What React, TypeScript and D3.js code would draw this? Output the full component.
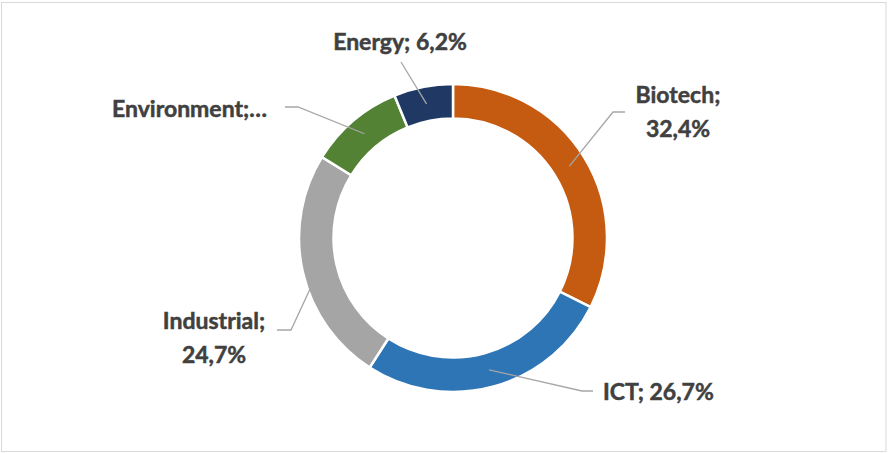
import React from "react";
import * as d3 from "d3";

const categories = ["Biotech", "ICT", "Industrial", "Environment", "Energy"];
const shares = [32.4, 26.7, 24.7, 10.0, 6.2];
const labelLines = [
  ["Biotech;", "32,4%"],
  ["ICT; 26,7%"],
  ["Industrial;", "24,7%"],
  ["Environment;…"],
  ["Energy; 6,2%"],
];
const colors = ["#C55A11", "#2E75B6", "#A5A5A5", "#548235", "#203864"];

// where Excel placed each label (text x, first baseline y, leader elbow)
const labelLayout = [
  { x: 678, y: 103, anchor: "middle", elbow: [625, 613, 112] },
  { x: 603, y: 400, anchor: "start", elbow: [593, 582, 391] },
  { x: 214, y: 329, anchor: "middle", elbow: [277, 291, 330] },
  { x: 267, y: 117, anchor: "end", elbow: [285, 298, 107] },
  { x: 400, y: 50, anchor: "middle", elbow: null },
];

const W = 888;
const H = 453;
const cx = 453;
const cy = 238;
const outerR = 154;
const innerR = 119.5;

export default function App() {
  const pie = d3.pie<number>().sort(null).value((d) => d);
  const arcs = pie(shares);
  const arc = d3.arc<d3.PieArcDatum<number>>().innerRadius(innerR).outerRadius(outerR);

  return (
    <svg
      width={W}
      height={H}
      style={{ position: "absolute", left: 0, top: 0 }}
      fontFamily="Lato, 'Open Sans', sans-serif"
    >
      <rect x={0} y={0} width={W} height={H} fill="#fff" />
      <rect x={1.5} y={2.5} width={W - 3.5} height={H - 4} fill="#fff" stroke="#d9d9d9" strokeWidth={1} />
      <g transform={`translate(${cx},${cy})`}>
        {arcs.map((a, i) => (
          <path key={categories[i]} d={arc(a) || ""} fill={colors[i]} stroke="#fff" strokeWidth={2.5} />
        ))}
      </g>
      {arcs.map((a, i) => {
        const [px, py] = arc.centroid(a);
        const L = labelLayout[i];
        const ex = cx + px;
        const ey = cy + py;
        const pts: [number, number][] = L.elbow
          ? [
              [L.elbow[0], L.elbow[2]],
              [L.elbow[1], L.elbow[2]],
              [ex, ey],
            ]
          : [
              [401, 62],
              [ex, ey],
            ];
        return (
          <path
            key={"l" + i}
            d={d3.line()(pts) || ""}
            fill="none"
            stroke="#a6a6a6"
            strokeWidth={1.3}
          />
        );
      })}
      {labelLines.map((lines, i) => {
        const L = labelLayout[i];
        return (
          <text
            key={"t" + i}
            x={L.x}
            y={L.y}
            textAnchor={L.anchor as any}
            fontSize={23}
            fontWeight="bold"
            fill="#404040"
            stroke="#404040"
            strokeWidth={0.5}
          >
            {lines.map((s, j) => (
              <tspan key={j} x={L.x} dy={j === 0 ? 0 : 34}>
                {s}
              </tspan>
            ))}
          </text>
        );
      })}
    </svg>
  );
}
